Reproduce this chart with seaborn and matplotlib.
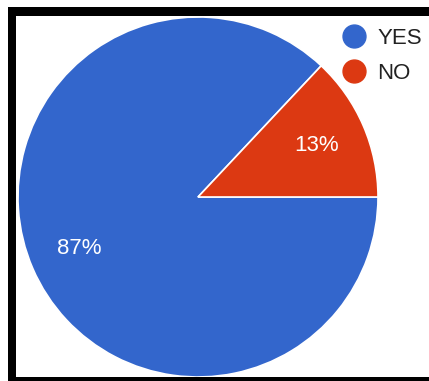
import matplotlib
matplotlib.use("Agg")
import matplotlib.pyplot as plt
import seaborn as sns
from matplotlib.lines import Line2D
from matplotlib.patches import Rectangle

answers = ["YES", "NO"]
counts = [87, 13]
slice_colors = ["#3366CC", "#DC3912"]

sns.set_theme(style="white")
plt.rcParams['font.family'] = ['Liberation Sans', 'DejaVu Sans']

W, H = 429, 381
fig = plt.figure(figsize=(W / 100, H / 100), dpi=100)
fig.patch.set_facecolor("white")

# pie centre ~ (198, 197) px from top-left, radius ~180 px
cx, cy, r = 198, 197, 180
ax = fig.add_axes([(cx - r) / W, (H - cy - r) / H, 2 * r / W, 2 * r / H])

# NO wedge sits between 0 and its own share, counter-clockwise from 3 o'clock
start = 360 * counts[1] / sum(counts)
wedges, texts, autotexts = ax.pie(
    counts, colors=slice_colors, startangle=start, counterclock=True,
    autopct="%1.0f%%", pctdistance=0.72, radius=1.0,
    wedgeprops=dict(edgecolor="white", linewidth=1.2),
    textprops=dict(color="white", fontsize=16))
ax.set_xlim(-1, 1)
ax.set_ylim(-1, 1)
ax.set_aspect("auto")
ax.axis("off")

handles = [Line2D([0], [0], marker="o", linestyle="", markersize=16.5,
                  markerfacecolor=c, markeredgecolor=c) for c in slice_colors]
fig.legend(handles, answers, loc="upper left",
           bbox_to_anchor=(343 / W, (H - 28) / H), frameon=False,
           fontsize=16, labelcolor="#222222", borderpad=0, borderaxespad=0,
           handletextpad=0.55, handlelength=1.0, labelspacing=0.63)

# black frame on top, left and bottom of the screenshot
frame = dict(facecolor="black", edgecolor="none", transform=fig.transFigure, zorder=10)
fig.patches.append(Rectangle((8 / W, (H - 16) / H), 1 - 8 / W, 9 / H, **frame))
fig.patches.append(Rectangle((8 / W, 0), 8 / W, (H - 7) / H, **frame))
fig.patches.append(Rectangle((8 / W, 0), 1 - 8 / W, 4.5 / H, **frame))

plt.savefig("out.png", dpi=100)
